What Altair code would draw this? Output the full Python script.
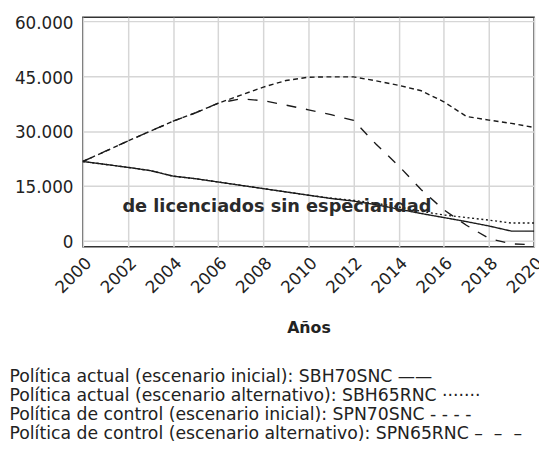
import altair as alt
import pandas as pd

years = list(range(2000, 2021))

series_names = [
    "Política actual (escenario inicial): SBH70SNC",
    "Política actual (escenario alternativo): SBH65RNC",
    "Política de control (escenario inicial): SPN70SNC",
    "Política de control (escenario alternativo): SPN65RNC",
]

sbh70snc = [21700, 20900, 20100, 19200, 17700, 17000, 16100, 15200, 14300, 13400,
            12500, 11600, 10900, 9900, 8700, 7500, 6400, 5300, 4100, 2700, 2700]
sbh65rnc = [21700, 20900, 20100, 19200, 17700, 17000, 16100, 15200, 14300, 13400,
            12500, 11700, 11100, 10300, 9300, 8100, 7100, 6400, 5700, 4900, 4900]
spn70snc = [21700, 24500, 27300, 30000, 32700, 35000, 37600, 39800, 42000, 43800,
            44700, 44800, 44800, 43700, 42500, 41000, 38000, 34000, 33000, 32100, 31000]
spn65rnc = [21700, 24500, 27300, 30000, 32700, 35000, 37600, 38800, 38300, 37100,
            35800, 34500, 32900, 26400, 20500, 14000, 8500, 4300, 700, -800, -1000]

y_ticks = [0, 15000, 30000, 45000, 60000]

annotation_text = ["de licenciados sin especialidad"]
annotation_x = [2008.6]
annotation_y = [7900]

legend_glyphs = ["——", "·······", "- - - -", "–\u00a0\u00a0–\u00a0\u00a0–"]
dash_patterns = [[1, 0], [2, 2.7], [5, 3.5], [10, 10]]

rows = []
for name, vals in zip(series_names, [sbh70snc, sbh65rnc, spn70snc, spn65rnc]):
    for yr, v in zip(years, vals):
        rows.append({"year": yr, "value": v, "serie": name})
df = pd.DataFrame(rows)

ann = pd.DataFrame({"x": annotation_x, "y": annotation_y, "t": annotation_text})

label_expr = ""
for name, g in zip(series_names, legend_glyphs):
    label_expr += f"datum.label == '{name}' ? datum.label + ' {g}' : "
label_expr += "datum.label"

FONT = "DejaVu Sans"

x_scale = alt.Scale(domain=[2000, 2020], nice=False, zero=False)
y_scale = alt.Scale(domain=[-1560, 61080], nice=False, zero=False)

lines = alt.Chart(df).mark_line(strokeWidth=1.4, color="#1a1a1a").encode(
    x=alt.X("year:Q", scale=x_scale,
            axis=alt.Axis(values=years, labelExpr="datum.value % 2 == 0 ? datum.value : ''",
                          labelAngle=315, labelFontSize=17, labelPadding=8,
                          ticks=False, domain=False, grid=True,
                          title="Años", titleFontSize=16, titleFontWeight="bold",
                          titlePadding=24, labelColor="#222", titleColor="#222")),
    y=alt.Y("value:Q", scale=y_scale,
            axis=alt.Axis(values=y_ticks,
                          labelExpr="replace(format(datum.value, ','), ',', '.')",
                          labelFontSize=17, labelPadding=10, labelOffset=2,
                          ticks=False, domain=False, grid=True, title=None,
                          labelColor="#222")),
    strokeDash=alt.StrokeDash("serie:N",
                              scale=alt.Scale(domain=series_names, range=dash_patterns),
                              legend=alt.Legend(title=None, orient="none", legendX=-92,
                                                legendY=357, direction="vertical",
                                                labelFontSize=17.5, labelLimit=700,
                                                symbolSize=0, symbolStrokeWidth=0,
                                                symbolOpacity=0, labelOffset=0,
                                                rowPadding=0, labelColor="#222",
                                                labelFont=FONT,
                                                labelExpr=label_expr)),
    detail="serie:N",
)

text = alt.Chart(ann).mark_text(fontSize=18, fontWeight="bold", align="center",
                                baseline="alphabetic", color="#2a2a2a",
                                font=FONT).encode(
    x=alt.X("x:Q", scale=x_scale),
    y=alt.Y("y:Q", scale=y_scale),
    text="t:N",
)

chart = alt.layer(lines, text).properties(
    width=458, height=233,
    autosize=alt.AutoSizeParams(type="none"),
    padding={"left": 76, "top": 6, "right": 5, "bottom": 203},
).configure(font=FONT).configure_view(
    stroke="#333", strokeWidth=1.5
).configure_axis(gridColor="#d6d6d6", gridWidth=1.5, labelFont=FONT, titleFont=FONT)

chart.save("out.html", embed_options={"renderer": "svg", "actions": False})
